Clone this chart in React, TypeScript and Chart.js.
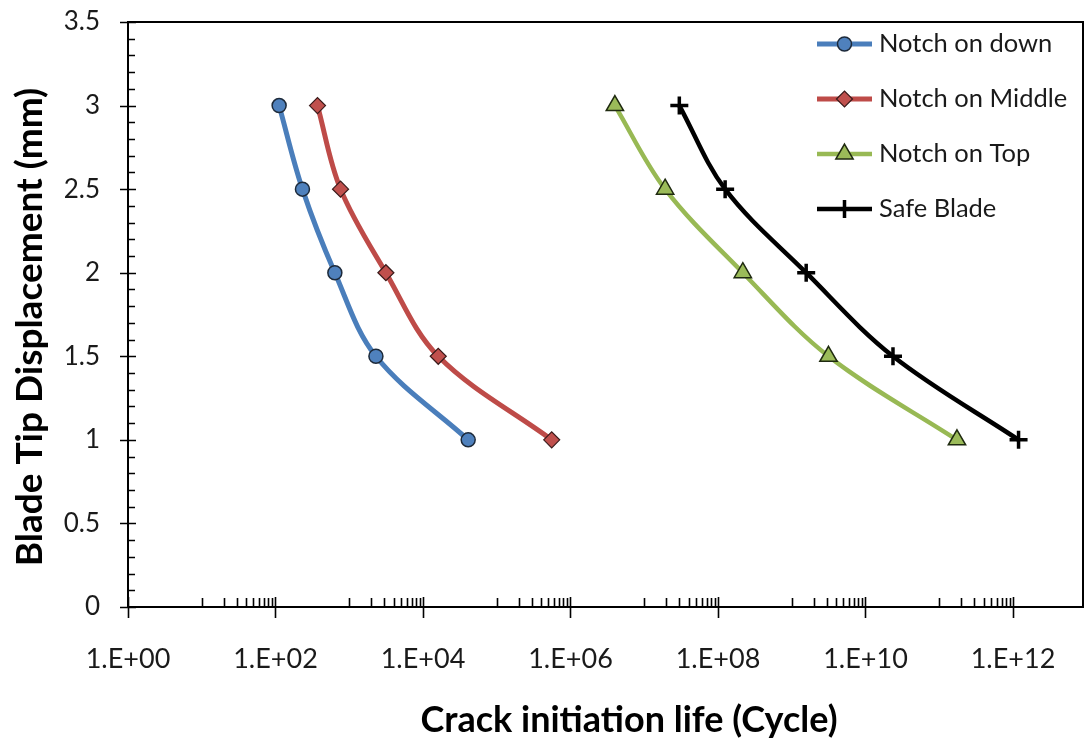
import React, { useEffect, useRef } from "react";
import { Chart, registerables } from "chart.js";

Chart.register(...registerables);

// ---------- data ----------
const displacement = [3, 2.5, 2, 1.5, 1];
const notchDownLife = [112, 232, 638, 2300, 41000];
const notchMiddleLife = [371, 762, 3140, 16100, 556000];
const notchTopLife = [4.0e6, 1.92e7, 2.17e8, 3.15e9, 1.74e11];
const safeBladeLife = [2.99e7, 1.25e8, 1.57e9, 2.36e10, 1.19e12];
const seriesNames = ["Notch on down", "Notch on Middle", "Notch on Top", "Safe Blade"];
const xMajorExponents = [0, 2, 4, 6, 8, 10, 12];
const xAxisMin = 1;
const xAxisMax = 8.9e12;
const yAxisMin = 0;
const yAxisMax = 3.5;
const xAxisTitle = "Crack initiation life (Cycle)";
const yAxisTitle = "Blade Tip Displacement (mm)";

const lifeSeries = [notchDownLife, notchMiddleLife, notchTopLife, safeBladeLife];

// ---------- styles ----------
const seriesStyles = [
  { line: "#4A7EBB", fill: "#4F81BD", edge: "#1d2a3a", shape: "circle", radius: 7, edgeWidth: 1.5, width: 5 },
  { line: "#BE4B48", fill: "#C0504D", edge: "#3a1a1a", shape: "rectRot", radius: 8, edgeWidth: 1.2, width: 5 },
  { line: "#98B954", fill: "#9BBB59", edge: "#1f2a10", shape: "triangle", radius: 10, edgeWidth: 1.5, width: 4.5 },
  { line: "#000000", fill: "#000000", edge: "#000000", shape: "cross", radius: 9, edgeWidth: 3.5, width: 4.5 },
];
const tickFont = "Lato";
const textColor = "#1a1a1a";

function formatExp(v: number): string {
  const e = Math.round(Math.log10(v));
  const s = String(Math.abs(e)).padStart(2, "0");
  return "1.E" + (e < 0 ? "-" : "+") + s;
}

function isMajorX(v: number): boolean {
  const e = Math.log10(v);
  return xMajorExponents.some((m) => Math.abs(m - e) < 1e-9);
}

function buildXTicks(max: number) {
  const ticks: { value: number }[] = [];
  for (const e of xMajorExponents) {
    const base = Math.pow(10, e);
    ticks.push({ value: base });
    for (let k = 1; k <= 9; k++) {
      const v = k * base * 10;
      if (v < max) ticks.push({ value: v });
    }
  }
  return ticks.filter((t) => t.value <= max).sort((a, b) => a.value - b.value);
}

function drawMarker(ctx: CanvasRenderingContext2D, shape: string, x: number, y: number, r: number) {
  ctx.beginPath();
  if (shape === "circle") {
    ctx.arc(x, y, r, 0, Math.PI * 2);
    ctx.closePath();
    ctx.fill();
    ctx.stroke();
  } else if (shape === "rectRot") {
    ctx.moveTo(x - r, y);
    ctx.lineTo(x, y - r);
    ctx.lineTo(x + r, y);
    ctx.lineTo(x, y + r);
    ctx.closePath();
    ctx.fill();
    ctx.stroke();
  } else if (shape === "triangle") {
    let rad = 0;
    ctx.moveTo(x + Math.sin(rad) * r, y - Math.cos(rad) * r);
    rad += (2 * Math.PI) / 3;
    ctx.lineTo(x + Math.sin(rad) * r, y - Math.cos(rad) * r);
    rad += (2 * Math.PI) / 3;
    ctx.lineTo(x + Math.sin(rad) * r, y - Math.cos(rad) * r);
    ctx.closePath();
    ctx.fill();
    ctx.stroke();
  } else {
    ctx.moveTo(x - r, y);
    ctx.lineTo(x + r, y);
    ctx.moveTo(x, y - r);
    ctx.lineTo(x, y + r);
    ctx.stroke();
  }
}

const framePlugin = {
  id: "excelFrame",
  beforeDatasetsDraw(chart: any) {
    const { ctx, chartArea } = chart;
    const { left, right, top, bottom } = chartArea;
    const xs = chart.scales.x;
    const ys = chart.scales.y;
    ctx.save();
    ctx.strokeStyle = "#000";
    ctx.lineWidth = 2;
    ctx.strokeRect(left, top, right - left, bottom - top);
    ctx.lineWidth = 1.6;
    ctx.beginPath();
    for (const t of xs.ticks) {
      const px = Math.round(xs.getPixelForValue(t.value)) + 0.5;
      if (isMajorX(t.value)) {
        ctx.moveTo(px, bottom - 10);
        ctx.lineTo(px, bottom + 11);
      } else {
        ctx.moveTo(px, bottom);
        ctx.lineTo(px, bottom - 9);
      }
    }
    for (const t of ys.ticks) {
      const py = Math.round(ys.getPixelForValue(t.value)) + 0.5;
      const halfStep = Math.abs(t.value * 2 - Math.round(t.value * 2)) < 1e-6;
      if (halfStep) {
        ctx.moveTo(left - 8, py);
        ctx.lineTo(left + 8, py);
      } else {
        ctx.moveTo(left, py);
        ctx.lineTo(left + 7, py);
      }
    }
    ctx.stroke();
    ctx.restore();
  },
  afterDraw(chart: any) {
    const { ctx, chartArea } = chart;
    ctx.save();
    // axis titles
    ctx.fillStyle = "#000";
    ctx.font = "bold 36px Lato";
    ctx.textAlign = "center";
    ctx.textBaseline = "middle";
    ctx.fillText(xAxisTitle, 629, 720);
    ctx.font = "bold 37px Lato";
    ctx.translate(30, 327);
    ctx.rotate(-Math.PI / 2);
    ctx.fillText(yAxisTitle, 0, 0);
    ctx.restore();

    // legend
    ctx.save();
    const lx0 = chartArea.right - 266;
    const lx1 = chartArea.right - 211;
    const mx = (lx0 + lx1) / 2;
    const tx = chartArea.right - 204;
    seriesNames.forEach((name, i) => {
      const st = seriesStyles[i];
      const y = chartArea.top + 22 + i * 55;
      ctx.strokeStyle = st.line;
      ctx.lineWidth = st.width;
      ctx.beginPath();
      ctx.moveTo(lx0, y);
      ctx.lineTo(lx1, y);
      ctx.stroke();
      ctx.fillStyle = st.fill;
      ctx.strokeStyle = st.edge;
      ctx.lineWidth = st.edgeWidth;
      drawMarker(ctx, st.shape, mx, y, st.radius);
      ctx.fillStyle = textColor;
      ctx.font = `25.5px ${tickFont}`;
      ctx.textAlign = "left";
      ctx.textBaseline = "middle";
      ctx.fillText(name, tx, y);
    });
    ctx.restore();
  },
};

export default function App() {
  const ref = useRef<HTMLCanvasElement>(null);
  useEffect(() => {
    const canvas = ref.current;
    if (!canvas) return;
    const datasets = seriesNames.map((name, i) => {
      const st = seriesStyles[i];
      return {
        label: name,
        data: lifeSeries[i].map((x, j) => ({ x, y: displacement[j] })),
        showLine: true,
        borderColor: st.line,
        borderWidth: st.width,
        backgroundColor: st.fill,
        pointStyle: st.shape,
        pointRadius: st.radius,
        pointBorderColor: st.edge,
        pointBorderWidth: st.edgeWidth,
        pointBackgroundColor: st.fill,
        tension: 0.35,
        fill: false,
      };
    });
    const chart = new Chart(canvas, {
      type: "scatter",
      data: { datasets },
      plugins: [framePlugin],
      options: {
        animation: false,
        responsive: false,
        events: [],
        layout: { autoPadding: false, padding: { top: 22, right: 3, left: 0, bottom: 0 } },
        plugins: {
          legend: { display: false },
          tooltip: { enabled: false },
        },
        scales: {
          x: {
            type: "logarithmic",
            position: "bottom",
            min: xAxisMin,
            max: xAxisMax,
            afterBuildTicks: (scale: any) => {
              scale.ticks = buildXTicks(xAxisMax);
            },
            afterFit: (scale: any) => {
              scale.height = 138;
              scale.paddingLeft = 0;
              scale.paddingRight = 0;
            },
            grid: {
              display: true,
              drawOnChartArea: false,
              drawTicks: true,
              tickLength: 32,
              color: "rgba(0,0,0,0)",
            },
            border: { display: false },
            ticks: {
              autoSkip: false,
              maxRotation: 0,
              minRotation: 0,
              padding: 4,
              color: textColor,
              font: { family: tickFont, size: 27 },
              callback: (v: any) => (isMajorX(Number(v)) ? formatExp(Number(v)) : ""),
            },
          },
          y: {
            type: "linear",
            min: yAxisMin,
            max: yAxisMax,
            afterFit: (scale: any) => {
              scale.width = 128;
              scale.paddingTop = 0;
              scale.paddingBottom = 0;
            },
            grid: { display: false, drawTicks: false },
            border: { display: false },
            ticks: {
              stepSize: 0.1,
              autoSkip: false,
              padding: 28,
              color: textColor,
              font: { family: tickFont, size: 26 },
              callback: (v: any) => {
                const n = Number(v);
                return Math.abs(n * 2 - Math.round(n * 2)) < 1e-6 ? String(Math.round(n * 2) / 2) : "";
              },
            },
          },
        },
      } as any,
    } as any);
    return () => chart.destroy();
  }, []);
  return (
    <div style={{ position: "absolute", left: 0, top: 0, width: 1086, height: 745, background: "#fff" }}>
      <canvas ref={ref} width={1086} height={745} style={{ display: "block" }} />
    </div>
  );
}
